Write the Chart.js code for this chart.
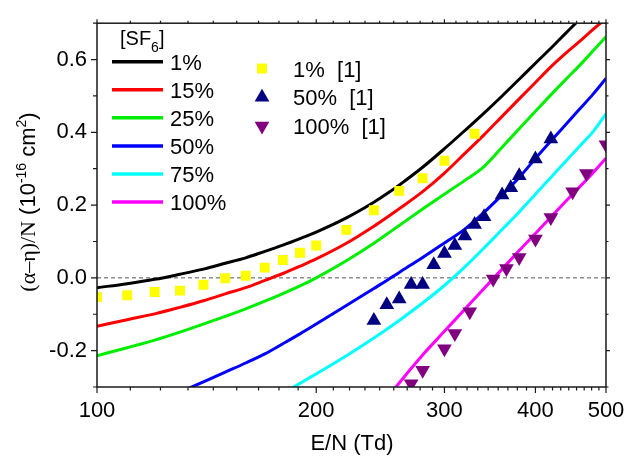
<!DOCTYPE html>
<html>
<head>
<meta charset="utf-8">
<script src="https://cdn.jsdelivr.net/npm/chart.js@4.4.0/dist/chart.umd.min.js"></script>
<style>
  html, body { margin: 0; padding: 0; background: #fff; }
  #wrap { width: 640px; height: 456px; position: relative; }
</style>
</head>
<body>
<div id="wrap"><canvas id="chart"></canvas></div>
<script>
// E/N grid (Td) for the computed curves
const fieldE = [100, 110, 120, 130, 140, 150, 160, 170, 180, 190, 200, 220, 240, 250, 260, 280, 300, 320, 340, 360, 380, 400, 420, 440, 460, 480, 500];

// effective ionization coefficient (alpha-eta)/N, 1e-16 cm^2, per SF6 fraction
const calc1 = [-0.027, -0.016, -0.004, 0.010, 0.024, 0.040, 0.055, 0.073, 0.090, 0.108, 0.126, 0.165, 0.208, 0.231, 0.255, 0.304, 0.355, 0.405, 0.453, 0.500, 0.546, 0.590, 0.631, 0.672, 0.711, 0.750, 0.785];
const calc15 = [-0.133, -0.115, -0.099, -0.081, -0.063, -0.044, -0.027, -0.007, 0.012, 0.032, 0.052, 0.095, 0.142, 0.166, 0.190, 0.237, 0.288, 0.342, 0.393, 0.444, 0.492, 0.537, 0.580, 0.617, 0.650, 0.683, 0.713];
const calc25 = [-0.214, -0.192, -0.171, -0.149, -0.127, -0.106, -0.085, -0.064, -0.043, -0.022, 0.000, 0.047, 0.095, 0.120, 0.144, 0.189, 0.230, 0.268, 0.306, 0.359, 0.410, 0.458, 0.503, 0.545, 0.584, 0.624, 0.663];
const calc50 = [null, null, null, -0.314, -0.286, -0.259, -0.234, -0.209, -0.181, -0.154, -0.127, -0.076, -0.029, -0.007, 0.015, 0.056, 0.096, 0.134, 0.180, 0.228, 0.276, 0.328, 0.376, 0.421, 0.464, 0.505, 0.548];
const calc75 = [null, null, null, null, null, null, null, null, -0.317, -0.290, -0.264, -0.214, -0.165, -0.141, -0.117, -0.069, -0.021, 0.030, 0.082, 0.133, 0.181, 0.230, 0.276, 0.320, 0.362, 0.402, 0.451];
const calc100 = [null, null, null, null, null, null, null, null, null, null, null, null, null, -0.332, -0.289, -0.212, -0.147, -0.086, -0.029, 0.024, 0.075, 0.122, 0.167, 0.210, 0.250, 0.289, 0.329];

// measured values from ref. [1]
const meas1E = [100, 110, 120, 130, 140, 150, 160, 170, 180, 190, 200, 220, 240, 260, 280, 300, 330];
const meas1 = [-0.053, -0.048, -0.039, -0.035, -0.019, -0.001, 0.006, 0.028, 0.049, 0.069, 0.089, 0.132, 0.186, 0.239, 0.274, 0.322, 0.396];
const meas50E = [240, 250, 260, 270, 280, 290, 300, 310, 320, 330, 340, 360, 370, 380, 400, 420];
const meas50 = [-0.117, -0.074, -0.058, -0.018, -0.018, 0.036, 0.067, 0.089, 0.115, 0.147, 0.168, 0.228, 0.248, 0.281, 0.327, 0.382];
const meas100E = [270, 280, 300, 310, 325, 350, 365, 380, 400, 420, 450, 470, 500];
const meas100 = [-0.291, -0.254, -0.195, -0.153, -0.093, -0.003, 0.026, 0.056, 0.107, 0.166, 0.237, 0.287, 0.366];

const curveNames = ['1%', '15%', '25%', '50%', '75%', '100%'];
const measNames = ['1%  [1]', '50%  [1]', '100%  [1]'];

const xLabels = [100, 200, 300, 400, 500];
const yTicks = [-0.3, -0.2, -0.1, 0, 0.1, 0.2, 0.3, 0.4, 0.5, 0.6, 0.7];
const yLabels = [-0.2, 0, 0.2, 0.4, 0.6];

const curveColors = ['#000000', '#ff0000', '#00ee00', '#0000ff', '#00ffff', '#ff00ff'];
const measStyles = [
  { color: '#ffff00', style: 'rect', radius: 7, rotation: 0 },
  { color: '#000080', style: 'triangle', radius: 8.5, rotation: 0 },
  { color: '#800080', style: 'triangle', radius: 8.5, rotation: 180 }
];

const SANS = "'Liberation Sans', Arial, sans-serif";
const SERIF = "'Liberation Serif', 'Times New Roman', serif";

// 8 minor ticks between labelled values, Origin style
const xTickVals = [];
xLabels.forEach((v, i) => {
  xTickVals.push(v);
  if (i < xLabels.length - 1) {
    for (let j = 1; j <= 8; j++) xTickVals.push(v + j * (xLabels[i + 1] - v) / 9);
  }
});

const pts = (xs, ys) => xs.map((e, i) => ({ x: e, y: ys[i] })).filter(p => p.y !== null);

const curves = [calc1, calc15, calc25, calc50, calc75, calc100];
const measured = [[meas1E, meas1], [meas50E, meas50], [meas100E, meas100]];

const datasets = [];
measured.forEach(([xs, ys], i) => {
  const s = measStyles[i];
  datasets.push({
    type: 'scatter',
    label: measNames[i],
    data: pts(xs, ys),
    pointStyle: s.style,
    pointRadius: s.radius,
    pointRotation: s.rotation,
    backgroundColor: s.color,
    borderColor: s.color,
    borderWidth: 0,
    order: 0
  });
});
curves.forEach((ys, i) => {
  datasets.push({
    type: 'line',
    label: curveNames[i],
    data: pts(fieldE, ys),
    borderColor: curveColors[i],
    borderWidth: 3,
    pointRadius: 0,
    cubicInterpolationMode: 'monotone',
    order: 1
  });
});
// zero reference
datasets.push({
  type: 'line',
  label: 'zero',
  data: [{ x: xLabels[0], y: 0 }, { x: xLabels[xLabels.length - 1], y: 0 }],
  borderColor: '#555555',
  borderWidth: 1,
  borderDash: [4, 3],
  pointRadius: 0,
  order: 2
});

function drawRich(ctx, parts, x, y) {
  let w = 0;
  parts.forEach(p => { ctx.font = p[1]; w += ctx.measureText(p[0]).width; });
  let cx = x - w / 2;
  parts.forEach(p => {
    ctx.font = p[1];
    ctx.fillText(p[0], cx, y + p[2]);
    cx += ctx.measureText(p[0]).width;
  });
}

const decorations = {
  id: 'decorations',
  afterDatasetsDraw(chart) {
    const { ctx, chartArea: a, scales: { x, y } } = chart;
    ctx.save();
    // frame
    ctx.strokeStyle = '#1a1a1a';
    ctx.lineWidth = 1.5;
    ctx.strokeRect(a.left, a.top, a.right - a.left, a.bottom - a.top);
    // tick marks on all four sides
    ctx.beginPath();
    x.ticks.forEach(t => {
      const px = x.getPixelForValue(t.value);
      const major = xLabels.includes(t.value);
      ctx.moveTo(px, a.bottom); ctx.lineTo(px, a.bottom + (major ? 6 : 3.5));
      ctx.moveTo(px, a.top); ctx.lineTo(px, a.top - (major ? 4 : 2.5));
    });
    y.ticks.forEach(t => {
      const py = y.getPixelForValue(t.value);
      const major = yLabels.some(v => Math.abs(v - t.value) < 1e-9);
      ctx.moveTo(a.left, py); ctx.lineTo(a.left - (major ? 6 : 4), py);
      ctx.moveTo(a.right, py); ctx.lineTo(a.right + (major ? 4 : 2.5), py);
    });
    ctx.lineWidth = 1.2;
    ctx.stroke();
    ctx.restore();
  },
  afterDraw(chart) {
    const { ctx } = chart;
    ctx.save();
    ctx.fillStyle = '#000';
    ctx.textBaseline = 'alphabetic';

    // legend for the curves
    ctx.textAlign = 'left';
    ctx.font = '20px ' + SANS;
    ctx.fillText('[SF', 120, 45);
    let w = ctx.measureText('[SF').width;
    ctx.font = '14px ' + SANS;
    ctx.fillText('6', 120 + w, 52);
    const w6 = ctx.measureText('6').width;
    ctx.font = '20px ' + SANS;
    ctx.fillText(']', 120 + w + w6, 45);

    curveNames.forEach((name, i) => {
      const ly = 61.7 + i * 28.06;
      ctx.strokeStyle = curveColors[i];
      ctx.lineWidth = 3.5;
      ctx.beginPath();
      ctx.moveTo(112, ly);
      ctx.lineTo(163, ly);
      ctx.stroke();
      ctx.font = '22px ' + SANS;
      ctx.fillStyle = '#000';
      ctx.fillText(name, 170, ly + 8);
    });

    // legend for the measured points
    measNames.forEach((name, i) => {
      const ly = 68.5 + i * 28.8;
      const s = measStyles[i];
      ctx.fillStyle = s.color;
      ctx.strokeStyle = s.color;
      Chart.helpers.drawPoint(ctx, { pointStyle: s.style, radius: s.radius, rotation: s.rotation, borderWidth: 0 }, 262, ly);
      ctx.fillStyle = '#000';
      ctx.font = '22px ' + SANS;
      ctx.fillText(name, 293, ly + 8);
    });

    // axis titles
    ctx.fillStyle = '#000';
    ctx.textAlign = 'left';
    drawRich(ctx, [['E/N (Td)', '22px ' + SANS, 0]], 352, 450);

    ctx.translate(35, 202);
    ctx.rotate(-Math.PI / 2);
    drawRich(ctx, [
      ['(α–η)/N', '22px ' + SERIF, 0],
      [' (10', '22px ' + SANS, 0],
      ['-16', '14px ' + SANS, -9],
      [' cm', '22px ' + SANS, 0],
      ['2', '14px ' + SANS, -9],
      [')', '22px ' + SANS, 0]
    ], 0, 0);
    ctx.restore();
  }
};

new Chart(document.getElementById('chart'), {
  data: { datasets },
  options: {
    responsive: true,
    maintainAspectRatio: false,
    animation: false,
    events: [],
    layout: { padding: { top: 8, right: 34, left: 0, bottom: 0 } },
    plugins: {
      legend: { display: false },
      tooltip: { enabled: false }
    },
    scales: {
      x: {
        type: 'logarithmic',
        min: 100,
        max: 500,
        afterBuildTicks: s => { s.ticks = xTickVals.map(v => ({ value: v })); },
        afterFit: s => { s.height = 69; },
        grid: { display: false, drawTicks: false },
        border: { display: false },
        ticks: {
          autoSkip: false,
          maxRotation: 0,
          padding: 11,
          color: '#000',
          font: { family: SANS, size: 22 },
          callback: v => xLabels.includes(v) ? String(v) : ''
        }
      },
      y: {
        type: 'linear',
        min: -0.3,
        max: 0.7,
        afterBuildTicks: s => { s.ticks = yTicks.map(v => ({ value: v })); },
        afterFit: s => { s.width = 97; },
        grid: { display: false, drawTicks: false },
        border: { display: false },
        ticks: {
          autoSkip: false,
          padding: 10,
          color: '#000',
          font: { family: SANS, size: 22 },
          callback: v => yLabels.some(l => Math.abs(l - v) < 1e-9) ? v.toFixed(1) : ''
        }
      }
    }
  },
  plugins: [decorations]
});
</script>
</body>
</html>
